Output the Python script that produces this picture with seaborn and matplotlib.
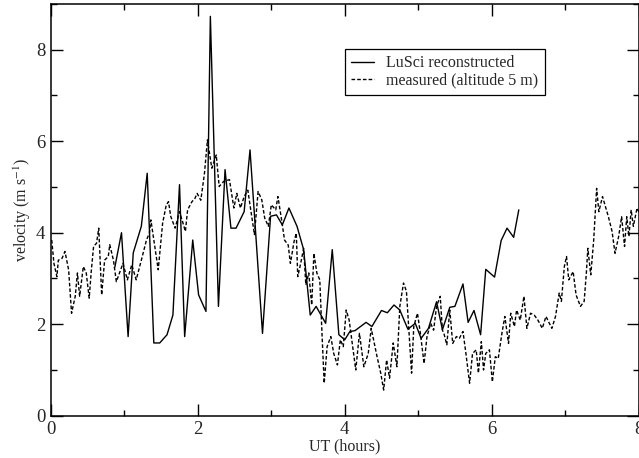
import numpy as np
import pandas as pd
import matplotlib
matplotlib.use("Agg")
import matplotlib.pyplot as plt
from matplotlib.ticker import MultipleLocator
import seaborn as sns

# LuSci reconstructed (solid)
lusci_t = [0.87, 0.96, 1.05, 1.12, 1.23, 1.31, 1.40, 1.48, 1.58, 1.66, 1.75, 1.82,
           1.93, 2.01, 2.11, 2.17, 2.28, 2.37, 2.45, 2.52, 2.63, 2.71, 2.88, 2.99,
           3.07, 3.15, 3.24, 3.35, 3.44, 3.53, 3.61, 3.74, 3.83, 3.92, 4.00, 4.07,
           4.14, 4.29, 4.37, 4.50, 4.58, 4.67, 4.75, 4.86, 4.96, 5.04, 5.14, 5.25,
           5.33, 5.43, 5.50, 5.61, 5.68, 5.76, 5.85, 5.92, 6.04, 6.13, 6.21, 6.30, 6.37]
lusci_v = [3.25, 4.00, 1.73, 3.56, 4.14, 5.30, 1.59, 1.59, 1.77, 2.20, 5.05, 1.73,
           3.84, 2.64, 2.28, 8.73, 2.39, 5.38, 4.10, 4.10, 4.46, 5.81, 1.80, 4.36,
           4.39, 4.17, 4.54, 4.14, 3.63, 2.20, 2.39, 2.02, 3.63, 1.77, 1.66, 1.84,
           1.86, 2.04, 1.95, 2.30, 2.25, 2.42, 2.31, 1.89, 2.02, 1.69, 1.91, 2.49,
           1.88, 2.37, 2.39, 2.88, 2.04, 2.30, 1.77, 3.20, 3.03, 3.83, 4.10, 3.90, 4.50]

# measured at altitude 5 m (dashed)
meas_t = [0.01, 0.04, 0.08, 0.10, 0.15, 0.19, 0.24, 0.28, 0.33, 0.36, 0.39, 0.44,
          0.48, 0.52, 0.55, 0.58, 0.62, 0.65, 0.69, 0.73, 0.78, 0.80, 0.85, 0.89,
          0.94, 0.98, 1.04, 1.10, 1.16, 1.23, 1.30, 1.34, 1.36, 1.46, 1.52, 1.57,
          1.60, 1.63, 1.69, 1.75, 1.79, 1.83, 1.86, 1.92, 1.96, 1.99, 2.04, 2.09,
          2.13, 2.19, 2.25, 2.29, 2.35, 2.43, 2.49, 2.53, 2.58, 2.63, 2.68, 2.72,
          2.77, 2.82, 2.87, 2.91, 2.96, 3.00, 3.06, 3.09, 3.14, 3.18, 3.23, 3.26,
          3.31, 3.34, 3.36, 3.40, 3.44, 3.47, 3.51, 3.55, 3.58, 3.62, 3.66, 3.69,
          3.72, 3.76, 3.81, 3.85, 3.90, 3.94, 3.98, 4.02, 4.06, 4.15, 4.20, 4.26,
          4.32, 4.36, 4.44, 4.49, 4.53, 4.57, 4.61, 4.66, 4.71, 4.75, 4.80, 4.84,
          4.91, 4.94, 4.99, 5.03, 5.08, 5.12, 5.17, 5.21, 5.25, 5.30, 5.33, 5.35,
          5.39, 5.43, 5.47, 5.52, 5.56, 5.61, 5.65, 5.70, 5.74, 5.79, 5.82, 5.86,
          5.89, 5.92, 5.97, 6.01, 6.05, 6.09, 6.14, 6.18, 6.23, 6.26, 6.31, 6.34,
          6.39, 6.44, 6.48, 6.53, 6.58, 6.63, 6.69, 6.74, 6.82, 6.87, 6.92, 6.95,
          6.99, 7.02, 7.05, 7.11, 7.15, 7.21, 7.26, 7.29, 7.31, 7.35, 7.39, 7.43,
          7.46, 7.51, 7.55, 7.59, 7.64, 7.68, 7.73, 7.77, 7.81, 7.84, 7.87, 7.90,
          7.93, 7.98, 8.02]
meas_v = [3.84, 3.33, 3.04, 3.40, 3.44, 3.59, 3.19, 2.24, 2.61, 3.12, 2.61, 3.26,
          3.12, 2.57, 3.19, 3.70, 3.77, 4.10, 2.64, 3.40, 3.48, 3.74, 3.40, 2.93,
          3.15, 3.33, 2.97, 3.30, 2.97, 3.40, 3.84, 3.99, 4.28, 3.19, 4.21, 4.61,
          4.68, 4.36, 4.10, 4.46, 4.25, 4.03, 4.50, 4.68, 4.75, 4.86, 4.71, 5.30,
          6.03, 5.41, 5.70, 5.01, 5.12, 5.16, 4.54, 4.86, 4.54, 4.79, 4.93, 4.50,
          3.96, 4.90, 4.72, 4.32, 4.14, 4.61, 4.50, 4.79, 4.28, 3.84, 3.73, 3.33,
          3.81, 3.99, 3.04, 3.33, 3.66, 2.86, 3.12, 2.42, 3.55, 3.12, 2.97, 1.80,
          0.71, 1.51, 1.73, 1.36, 1.11, 1.66, 1.51, 2.31, 2.09, 1.00, 1.80, 1.07,
          1.36, 1.91, 1.29, 0.93, 0.56, 1.22, 0.82, 1.59, 1.07, 2.39, 2.90, 2.72,
          0.93, 1.95, 2.24, 1.80, 1.14, 1.73, 2.02, 1.87, 2.39, 2.61, 1.87, 1.80,
          1.55, 2.31, 1.58, 1.73, 1.69, 1.84, 1.36, 0.71, 1.36, 1.44, 0.93, 1.62,
          1.00, 1.36, 1.44, 0.74, 1.29, 1.25, 1.80, 2.17, 1.58, 2.24, 1.95, 2.31,
          2.09, 2.61, 1.91, 2.24, 2.20, 2.09, 1.91, 2.17, 1.91, 2.17, 2.68, 2.50,
          3.26, 3.48, 2.97, 3.15, 2.64, 2.39, 2.50, 3.12, 3.66, 3.08, 3.84, 4.97,
          4.46, 4.79, 4.57, 4.35, 4.03, 3.55, 3.92, 4.35, 3.70, 4.35, 3.92, 4.50,
          4.14, 4.54, 4.40]

lusci = pd.DataFrame({"t": lusci_t, "v": lusci_v})
meas = pd.DataFrame({"t": meas_t, "v": meas_v})

sns.set_style("ticks")
plt.rcParams['font.family'] = ['Liberation Serif', 'DejaVu Serif']
plt.rcParams['mathtext.fontset'] = 'stix'

fig = plt.figure(figsize=(6.39, 4.58), dpi=100)
ax = fig.add_axes([51 / 639, 42.3 / 458, 587.5 / 639, 411.7 / 458])

sns.lineplot(data=lusci, x="t", y="v", ax=ax, color="black", lw=1.0,
             estimator=None, sort=False, label="LuSci reconstructed")
sns.lineplot(data=meas, x="t", y="v", ax=ax, color="black", lw=1.0,
             estimator=None, sort=False, label="measured (altitude 5 m)")
ax.lines[-1].set_dashes([2.6, 1.5])

ax.set_xlim(0, 8)
ax.set_ylim(0, 9)
ax.xaxis.set_major_locator(MultipleLocator(2))
ax.xaxis.set_minor_locator(MultipleLocator(1))
ax.yaxis.set_major_locator(MultipleLocator(2))
ax.yaxis.set_minor_locator(MultipleLocator(1))
ax.tick_params(which="both", direction="in", top=True, right=True,
               labelsize=13.5, pad=4, color="black")
ax.tick_params(which="major", length=8.5, width=1.0)
ax.tick_params(which="minor", length=4.3, width=1.0)
for s in ax.spines.values():
    s.set_linewidth(1.1)
    s.set_color("black")

ax.set_xlabel("UT (hours)", fontsize=11.5, labelpad=0)
ax.set_ylabel("velocity (m s$^{-1}$)", fontsize=11.5, labelpad=2)

leg = ax.legend(loc="upper left", bbox_to_anchor=(0.5, 0.891), borderaxespad=0,
                fontsize=11.5, handlelength=1.4, labelspacing=0.1,
                fancybox=False, framealpha=1, edgecolor="black",
                borderpad=0.4, handletextpad=0.8)
leg.get_frame().set_linewidth(0.9)

fig.savefig("out.png", dpi=100)
